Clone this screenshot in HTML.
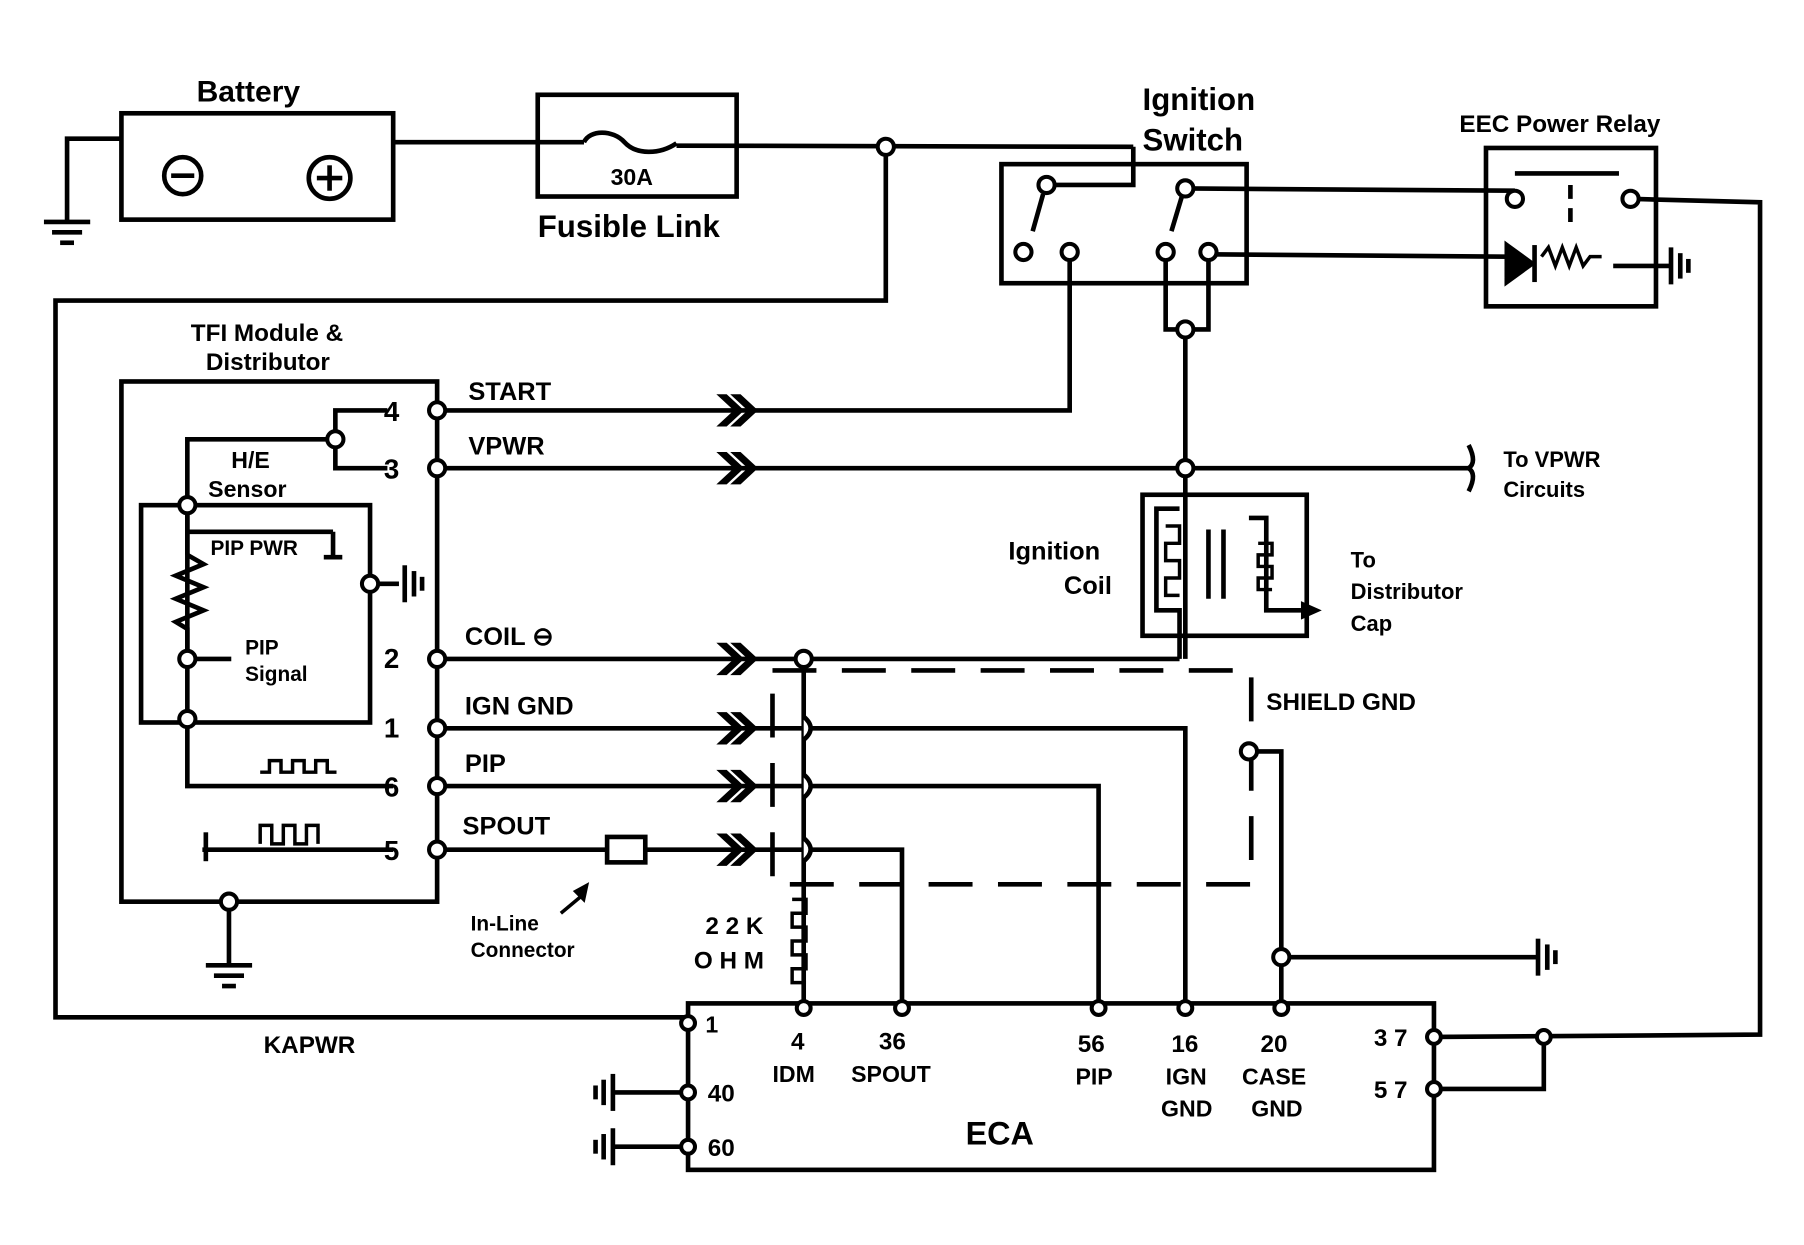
<!DOCTYPE html>
<html><head><meta charset="utf-8"><style>
html,body{margin:0;padding:0;background:#fff;}
svg{display:block}
text{font-family:"Liberation Sans",sans-serif;font-weight:bold;fill:#000}
</style></head><body>
<svg width="1804" height="1245" viewBox="0 0 1560 1077" preserveAspectRatio="none" xmlns="http://www.w3.org/2000/svg">
<defs>
<g id="gnd"><line x1="-20" y1="0" x2="20" y2="0" stroke="#000" stroke-width="4"/><line x1="-13" y1="9" x2="13" y2="9" stroke="#000" stroke-width="4"/><line x1="-6" y1="18" x2="6" y2="18" stroke="#000" stroke-width="4"/></g>
<g id="gndh"><line x1="0" y1="-16" x2="0" y2="16" stroke="#000" stroke-width="4"/><line x1="8" y1="-11" x2="8" y2="11" stroke="#000" stroke-width="4"/><line x1="15" y1="-6" x2="15" y2="6" stroke="#000" stroke-width="4"/></g>
<g id="arr"><path d="M-18,-13 L-4,0 L-18,13 L-12,13 L2,0 L-12,-13 Z M-6,-13 L8,0 L-6,13 L0,13 L14,0 L0,-13 Z" fill="#000" stroke="#000" stroke-width="2"/></g>
</defs>
<g fill="none" stroke="#000" stroke-width="4">
<rect x="105" y="98" width="235" height="92"/>
<circle cx="158" cy="152" r="16"/><line x1="148" y1="152" x2="168" y2="152"/>
<circle cx="285" cy="154" r="18"/><line x1="274" y1="154" x2="296" y2="154"/><line x1="285" y1="143" x2="285" y2="165"/>
<polyline points="105,120 58,120 58,192"/>
<rect x="465" y="82" width="172" height="88"/>
<line x1="340" y1="123" x2="505" y2="123"/>
<path d="M505,123 C510,112 530,112 540,123 C550,134 570,134 585,124"/>
<line x1="585" y1="126" x2="980" y2="127"/>
<polyline points="980,127 980,160 905,160"/>
<polyline points="766,127 766,260 48,260 48,880 595,880"/>
<rect x="866" y="142" width="212" height="103"/>
<line x1="902" y1="168" x2="893" y2="200"/><line x1="1022" y1="170" x2="1013" y2="200"/>
<line x1="1025" y1="163" x2="1310" y2="165"/>
<line x1="1045" y1="220" x2="1305" y2="222"/>
<polyline points="925,218 925,355 380,355"/>
<polyline points="1008,218 1008,285 1045,285 1045,218"/>
<line x1="1025" y1="285" x2="1025" y2="570"/>
<rect x="1285" y="128" width="147" height="137"/>
<line x1="1310" y1="150" x2="1400" y2="150"/>
<line x1="1358" y1="160" x2="1358" y2="200" stroke-dasharray="12,8"/>
<polyline points="1410,172 1522,175 1522,895 1240,897"/>
<polyline points="1335,897 1335,942 1240,942"/>
<path d="M1303,212 L1325,228 L1303,244 Z" fill="#000"/><line x1="1327" y1="212" x2="1327" y2="244"/>
<path d="M1333,222 l6,-8 l6,16 l6,-16 l6,16 l6,-16 l6,16 l6,-8 l10,0" stroke-width="3"/>
<line x1="1395" y1="230" x2="1445" y2="230"/>
<line x1="380" y1="405" x2="1270" y2="405"/>
<path d="M1270,405 c6,-4 4,-12 0,-20 M1270,405 c6,4 4,12 0,20"/>
<rect x="988" y="428" width="142" height="122"/>
<polyline points="1020,440 1000,440 1000,528 1020,528 1020,570"/>
<path d="M1008,455 h12 v15 h-12 v15 h12 v15 h-12 v15 h12" stroke-width="3"/>
<line x1="1045" y1="458" x2="1045" y2="518"/><line x1="1058" y1="458" x2="1058" y2="518"/>
<polyline points="1080,448 1095,448 1095,528 1125,528"/>
<path d="M1088,470 h12 v10 h-12 v10 h12 v10 h-12 v10 h12" stroke-width="3"/>
<rect x="105" y="330" width="273" height="450"/>
<polyline points="335,355 290,355 290,380"/><polyline points="335,405 290,405 290,380"/>
<polyline points="290,380 162,380 162,680 340,680"/>
<rect x="122" y="437" width="198" height="188"/>
<line x1="162" y1="437" x2="162" y2="480"/>
<path d="M162,480 l14,8 l-24,10 l24,10 l-24,10 l24,10 l-24,10 l10,6 l0,18" stroke-width="4"/>
<line x1="162" y1="570" x2="200" y2="570"/>
<line x1="162" y1="460" x2="288" y2="460"/><line x1="288" y1="460" x2="288" y2="482"/><line x1="280" y1="482" x2="296" y2="482"/>
<line x1="320" y1="505" x2="345" y2="505"/>
<path d="M225,668 h8 v-10 h10 v10 h10 v-10 h10 v10 h10 v-10 h10 v10 h8" stroke-width="3"/>
<polyline points="175,735 340,735"/>
<path d="M225,730 v-16 h10 v16 h10 v-16 h10 v16 h10 v-16 h10 v16" stroke-width="3"/>
<line x1="178" y1="720" x2="178" y2="745"/>
<polyline points="198,780 198,835"/>
<line x1="380" y1="570" x2="1020" y2="570"/>
<polyline points="380,630 1025,630 1025,872"/>
<polyline points="380,680 950,680 950,872"/>
<line x1="380" y1="735" x2="525" y2="735"/>
<rect x="525" y="724" width="33" height="22"/>
<polyline points="558,735 780,735 780,872"/>
<line x1="695" y1="570" x2="695" y2="872"/>
<path d="M695,620 q12,10 0,20 M695,670 q12,10 0,20 M695,725 q12,10 0,20" fill="#fff"/>
<path d="M685,778 h12 v12 h-12 v12 h12 v12 h-12 v12 h12 v12 h-12 v12 h12" stroke-width="3"/>
<line x1="503" y1="775" x2="485" y2="790" stroke-width="3"/><path d="M508,765 l-3,14 l-8,-8 z" fill="#000" stroke-width="2"/>
<polyline points="668,580 1082,580 1082,765 668,765 668,580" stroke-dasharray="38,22"/>
<polyline points="1080,650 1108,650 1108,872"/>
<line x1="1108" y1="828" x2="1330" y2="828"/>
<rect x="595" y="868" width="645" height="144"/>
<line x1="530" y1="945" x2="595" y2="945"/><line x1="530" y1="992" x2="595" y2="992"/>
</g>
<use href="#gnd" x="58" y="192"/><use href="#gnd" x="198" y="835"/>
<use href="#gndh" x="1445" y="230"/><use href="#gndh" x="350" y="505"/><use href="#gndh" x="1330" y="828"/>
<g transform="translate(530,945) scale(-1,1)"><use href="#gndh"/></g>
<g transform="translate(530,992) scale(-1,1)"><use href="#gndh"/></g>
<use href="#arr" x="640" y="355"/><use href="#arr" x="640" y="405"/><use href="#arr" x="640" y="570"/>
<use href="#arr" x="640" y="630"/><use href="#arr" x="640" y="680"/><use href="#arr" x="640" y="735"/>
<path d="M1125,520 l18,8 l-18,8 z" fill="#000"/>
<g fill="#fff" stroke="#000" stroke-width="3.5">
<circle cx="766" cy="127" r="7"/><circle cx="905" cy="160" r="7"/><circle cx="1025" cy="163" r="7"/>
<circle cx="885" cy="218" r="7"/><circle cx="925" cy="218" r="7"/><circle cx="1008" cy="218" r="7"/><circle cx="1045" cy="218" r="7"/>
<circle cx="1025" cy="285" r="7"/><circle cx="1025" cy="405" r="7"/>
<circle cx="1310" cy="172" r="7"/><circle cx="1410" cy="172" r="7"/>
<circle cx="290" cy="380" r="7"/><circle cx="162" cy="437" r="7"/><circle cx="162" cy="570" r="7"/><circle cx="162" cy="622" r="7"/><circle cx="320" cy="505" r="7"/>
<circle cx="378" cy="355" r="7"/><circle cx="378" cy="405" r="7"/><circle cx="378" cy="570" r="7"/>
<circle cx="378" cy="630" r="7"/><circle cx="378" cy="680" r="7"/><circle cx="378" cy="735" r="7"/>
<circle cx="198" cy="780" r="7"/><circle cx="695" cy="570" r="7"/><circle cx="1080" cy="650" r="7"/><circle cx="1108" cy="828" r="7"/>
<circle cx="595" cy="885" r="6"/><circle cx="595" cy="945" r="6"/><circle cx="595" cy="992" r="6"/>
<circle cx="695" cy="872" r="6"/><circle cx="780" cy="872" r="6"/><circle cx="950" cy="872" r="6"/><circle cx="1025" cy="872" r="6"/><circle cx="1108" cy="872" r="6"/>
<circle cx="1240" cy="897" r="6"/><circle cx="1240" cy="942" r="6"/><circle cx="1335" cy="897" r="6"/>
</g>
<text x="170" y="88" font-size="26">Battery</text>
<text x="528" y="160" font-size="20">30A</text>
<text x="465" y="205" font-size="27">Fusible Link</text>
<text x="988" y="95" font-size="27">Ignition</text>
<text x="988" y="130" font-size="27">Switch</text>
<text x="1262" y="114" font-size="21">EEC Power Relay</text>
<text x="165" y="295" font-size="21">TFI Module &amp;</text>
<text x="178" y="320" font-size="21">Distributor</text>
<text x="405" y="346" font-size="22">START</text>
<text x="405" y="393" font-size="22">VPWR</text>
<text x="402" y="558" font-size="22">COIL ⊖</text>
<text x="402" y="618" font-size="22">IGN GND</text>
<text x="402" y="668" font-size="22">PIP</text>
<text x="400" y="722" font-size="22">SPOUT</text>
<text x="332" y="364" font-size="24">4</text><text x="332" y="414" font-size="24">3</text>
<text x="332" y="578" font-size="24">2</text><text x="332" y="638" font-size="24">1</text>
<text x="332" y="689" font-size="24">6</text><text x="332" y="744" font-size="24">5</text>
<text x="200" y="405" font-size="20">H/E</text><text x="180" y="430" font-size="20">Sensor</text>
<text x="182" y="480" font-size="18">PIP PWR</text>
<text x="212" y="566" font-size="18">PIP</text><text x="212" y="589" font-size="18">Signal</text>
<text x="1300" y="404" font-size="19">To VPWR</text><text x="1300" y="430" font-size="19">Circuits</text>
<text x="872" y="484" font-size="22">Ignition</text><text x="920" y="514" font-size="22">Coil</text>
<text x="1168" y="491" font-size="19">To</text><text x="1168" y="518" font-size="19">Distributor</text><text x="1168" y="546" font-size="19">Cap</text>
<text x="1095" y="614" font-size="21">SHIELD GND</text>
<text x="407" y="805" font-size="18">In-Line</text><text x="407" y="828" font-size="18">Connector</text>
<text x="610" y="808" font-size="21">2 2 K</text><text x="600" y="838" font-size="21">O H M</text>
<text x="228" y="911" font-size="21">KAPWR</text>
<text x="610" y="893" font-size="20">1</text><text x="612" y="953" font-size="21">40</text><text x="612" y="1000" font-size="21">60</text>
<text x="684" y="908" font-size="21">4</text><text x="668" y="936" font-size="20">IDM</text>
<text x="760" y="908" font-size="21">36</text><text x="736" y="936" font-size="20">SPOUT</text>
<text x="932" y="910" font-size="21">56</text><text x="930" y="938" font-size="20">PIP</text>
<text x="1013" y="910" font-size="21">16</text><text x="1008" y="938" font-size="20">IGN</text><text x="1004" y="966" font-size="20">GND</text>
<text x="1090" y="910" font-size="21">20</text><text x="1074" y="938" font-size="20">CASE</text><text x="1082" y="966" font-size="20">GND</text>
<text x="1188" y="905" font-size="21">3 7</text><text x="1188" y="950" font-size="21">5 7</text>
<text x="835" y="990" font-size="28">ECA</text>
</svg>
</body></html>
